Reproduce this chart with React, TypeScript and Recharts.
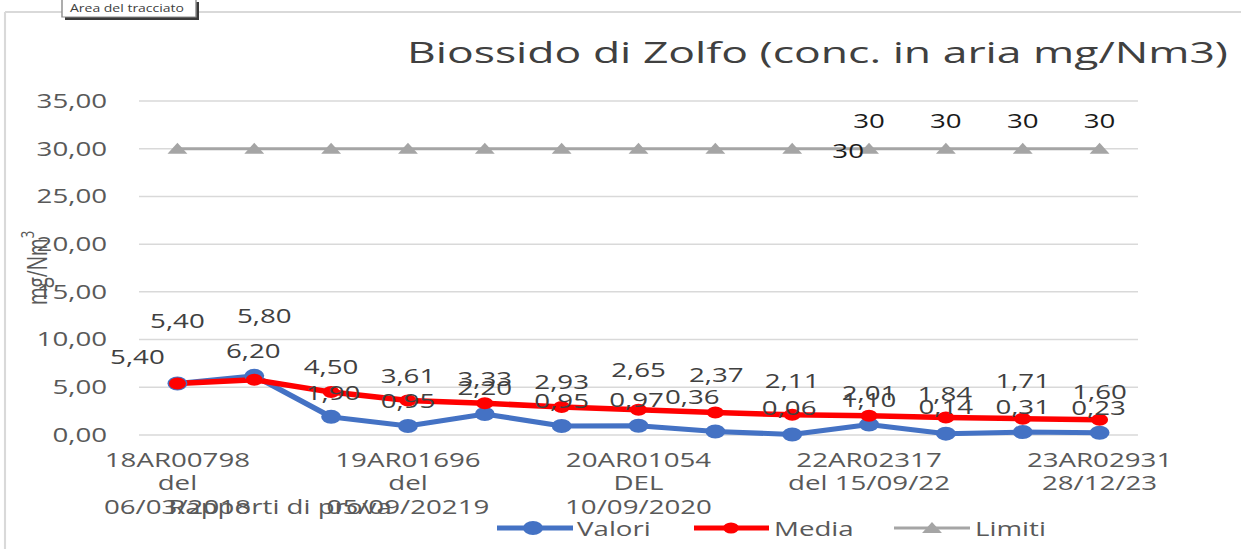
import React from 'react'
import { LineChart, Line, XAxis, YAxis, CartesianGrid, LabelList } from 'recharts'

// report ids (only every third one is printed on the axis)
const reports = [
  '18AR00798\ndel\n06/03/2018',
  '',
  '',
  '19AR01696\ndel\n05/09/20219',
  '',
  '',
  '20AR01054\nDEL\n10/09/2020',
  '',
  '',
  '22AR02317\ndel 15/09/22',
  '',
  '',
  '23AR02931\n28/12/23'
]
const valori = [5.4, 6.2, 1.9, 0.95, 2.2, 0.95, 0.97, 0.36, 0.06, 1.1, 0.14, 0.31, 0.23]
const media = [5.4, 5.8, 4.5, 3.61, 3.33, 2.93, 2.65, 2.37, 2.11, 2.01, 1.84, 1.71, 1.6]
const limiti = [30, 30, 30, 30, 30, 30, 30, 30, 30, 30, 30, 30, 30]
const limitiLabelled = [false, false, false, false, false, false, false, false, true, true, true, true, true]
const yTicks = [0, 5, 10, 15, 20, 25, 30, 35]

// the reference is stretched horizontally, so everything is drawn narrow and scaled
const SX = 1.42
const W = 1241 / SX
const H = 549
const FONT = '"Open Sans", sans-serif'

// label shifts [dx, dy] in reference pixels, relative to the point
const valoriShift = [[-40, -27], [-1, -26], [2, -25], [0, -26], [0, -27], [0, -26], [-2, -26], [-23, -35], [-3, -27], [0, -25], [0, -27], [0, -26], [-1, -26]]
const mediaShift = [[0, -63], [10, -64], [0, -26], [0, -25], [0, -25], [0, -26], [0, -40], [1, -38], [0, -35], [0, -24], [-1, -24], [0, -38], [0, -28]]
const limitiShift = [[0, -28], [0, -28], [0, -28], [0, -28], [0, -28], [0, -28], [0, -28], [0, -28], [56, 2], [0, -28], [0, -28], [0, -28], [0, -28]]

const BLUE = '#4472C4'
const RED = '#FF0000'
const GRAY = '#A5A5A5'

const data = reports.map((r, i) => ({
  pos: i,
  report: r,
  valori: valori[i],
  media: media[i],
  limiti: limiti[i]
}))

const xTicks = reports.map((r, i) => (r ? i : -1)).filter((i) => i >= 0)

const comma = (v: number) => v.toFixed(2).replace('.', ',')

const makeLabel = (shift: number[][], fmt: (v: number) => string, fill: string, show?: boolean[]) => (props: any) => {
  const { index, value } = props
  const vb = props.viewBox || {}
  const x = props.x ?? vb.x
  const y = props.y ?? vb.y
  if (x == null || y == null) return null
  if (show && !show[index]) return null
  const [dx, dy] = shift[index] || [0, -26]
  return (
    <text
      x={x + dx / SX}
      y={y + dy}
      textAnchor="middle"
      dominantBaseline="central"
      fontSize={19.5}
      fontFamily={FONT}
      fill={fill}
    >
      {fmt(value)}
    </text>
  )
}

const Triangle = (props: any) => {
  const { cx, cy } = props
  if (cx == null || cy == null) return null
  return <path d={`M${cx - 7},${cy + 5} L${cx + 7},${cy + 5} L${cx},${cy - 6} Z`} fill={GRAY} />
}

const XTick = (props: any) => {
  const { x, y, payload } = props
  const lines = (reports[payload.value] || '').split('\n')
  return (
    <text textAnchor="middle" fontSize={19.5} fontFamily={FONT} fill="#595959">
      {lines.map((l, i) => (
        <tspan key={i} x={x} y={y + 32 + i * 23.5}>
          {l}
        </tspan>
      ))}
    </text>
  )
}

const Overlay = () => (
  <svg width={W} height={H} style={{ position: 'absolute', left: 0, top: 0, pointerEvents: 'none' }}>
    {/* chart frame */}
    <line x1={5 / SX} y1={12} x2={5 / SX} y2={H} stroke="#d9d9d9" strokeWidth={1.5} />
    <line x1={5 / SX} y1={12} x2={W} y2={12} stroke="#d9d9d9" strokeWidth={2} />
    {/* selection hint box */}
    <rect x={65 / SX} y={2} width={134 / SX} height={18} fill="#3a3a3a" />
    <rect x={62 / SX} y={-1} width={134 / SX} height={18} fill="#fff" stroke="#8c8c8c" strokeWidth={1} />
    <text x={70 / SX} y={12.5} fontSize={11.5} fontFamily={FONT} fill="#404040" textLength={114 / SX} lengthAdjust="spacingAndGlyphs">
      Area del tracciato
    </text>
    {/* title */}
    <text x={407 / SX} y={63} fontSize={30} fontFamily={FONT} fill="#404040" textLength={821 / SX} lengthAdjust="spacingAndGlyphs">
      Biossido di Zolfo (conc. in aria mg/Nm3)
    </text>
    {/* axis titles */}
    <text transform={`translate(${37 / SX},268) rotate(-90)`} textAnchor="middle" dominantBaseline="central" fontSize={19} fontFamily={FONT} fill="#595959">
      mg/Nm<tspan fontSize={13} dy={-7}>3</tspan>
    </text>
    <text x={280 / SX} y={514} textAnchor="middle" fontSize={19.5} fontFamily={FONT} fill="#595959">
      Rapporti di prova
    </text>
    {/* legend */}
    <line x1={497 / SX} y1={528} x2={573 / SX} y2={528} stroke={BLUE} strokeWidth={5} />
    <circle cx={533 / SX} cy={528} r={7} fill={BLUE} />
    <text x={577 / SX} y={528} dominantBaseline="central" fontSize={19.5} fontFamily={FONT} fill="#595959">Valori</text>
    <line x1={694 / SX} y1={528} x2={769 / SX} y2={528} stroke={RED} strokeWidth={5} />
    <circle cx={731 / SX} cy={528} r={5.5} fill={RED} />
    <text x={774 / SX} y={528} dominantBaseline="central" fontSize={19.5} fontFamily={FONT} fill="#595959">Media</text>
    <line x1={894 / SX} y1={528} x2={970 / SX} y2={528} stroke={GRAY} strokeWidth={3} />
    <Triangle cx={932 / SX} cy={528} />
    <text x={975 / SX} y={528} dominantBaseline="central" fontSize={19.5} fontFamily={FONT} fill="#595959">Limiti</text>
  </svg>
)

export default function App() {
  return (
    <div style={{ position: 'absolute', left: 0, top: 0, width: 1241, height: H, overflow: 'hidden', background: '#fff' }}>
      <div style={{ position: 'relative', width: W, height: H, transform: `scaleX(${SX})`, transformOrigin: '0 0' }}>
        <LineChart
          width={W}
          height={H}
          data={data}
          margin={{ top: 101, right: W - 1138 / SX, bottom: 0, left: 0 }}
        >
          <CartesianGrid vertical={false} stroke="#d9d9d9" strokeWidth={1.5} />
          <XAxis
            type="number"
            dataKey="pos"
            domain={[-0.5, 12.5]}
            ticks={xTicks}
            interval={0}
            tickLine={false}
            axisLine={false}
            tickSize={0}
            tickMargin={0}
            height={114}
            tick={<XTick />}
          />
          <YAxis
            type="number"
            domain={[0, 35]}
            ticks={yTicks}
            width={139 / SX}
            tickLine={false}
            axisLine={false}
            tickSize={0}
            tickMargin={22.5}
            tickFormatter={comma}
            tick={{ fontSize: 19.5, fill: '#595959', fontFamily: FONT }}
          />
          <Line
            dataKey="valori"
            stroke={BLUE}
            strokeWidth={5}
            dot={{ r: 7, fill: BLUE, stroke: BLUE, strokeWidth: 0 }}
            activeDot={false}
            isAnimationActive={false}
          />
          <Line
            dataKey="media"
            stroke={RED}
            strokeWidth={5.5}
            dot={{ r: 6, fill: RED, stroke: RED, strokeWidth: 0 }}
            activeDot={false}
            isAnimationActive={false}
          />
          <Line
            dataKey="limiti"
            stroke={GRAY}
            strokeWidth={3}
            dot={<Triangle />}
            activeDot={false}
            isAnimationActive={false}
          >
            <LabelList dataKey="limiti" content={makeLabel(limitiShift, (v) => String(v), '#1a1a1a', limitiLabelled)} />
          </Line>
          {/* label-only series, so the numbers sit on top of every line */}
          <Line dataKey="valori" stroke="none" dot={false} activeDot={false} legendType="none" isAnimationActive={false}>
            <LabelList dataKey="valori" content={makeLabel(valoriShift, comma, '#404040')} />
          </Line>
          <Line dataKey="media" stroke="none" dot={false} activeDot={false} legendType="none" isAnimationActive={false}>
            <LabelList dataKey="media" content={makeLabel(mediaShift, comma, '#404040')} />
          </Line>
        </LineChart>
        <Overlay />
      </div>
    </div>
  )
}
